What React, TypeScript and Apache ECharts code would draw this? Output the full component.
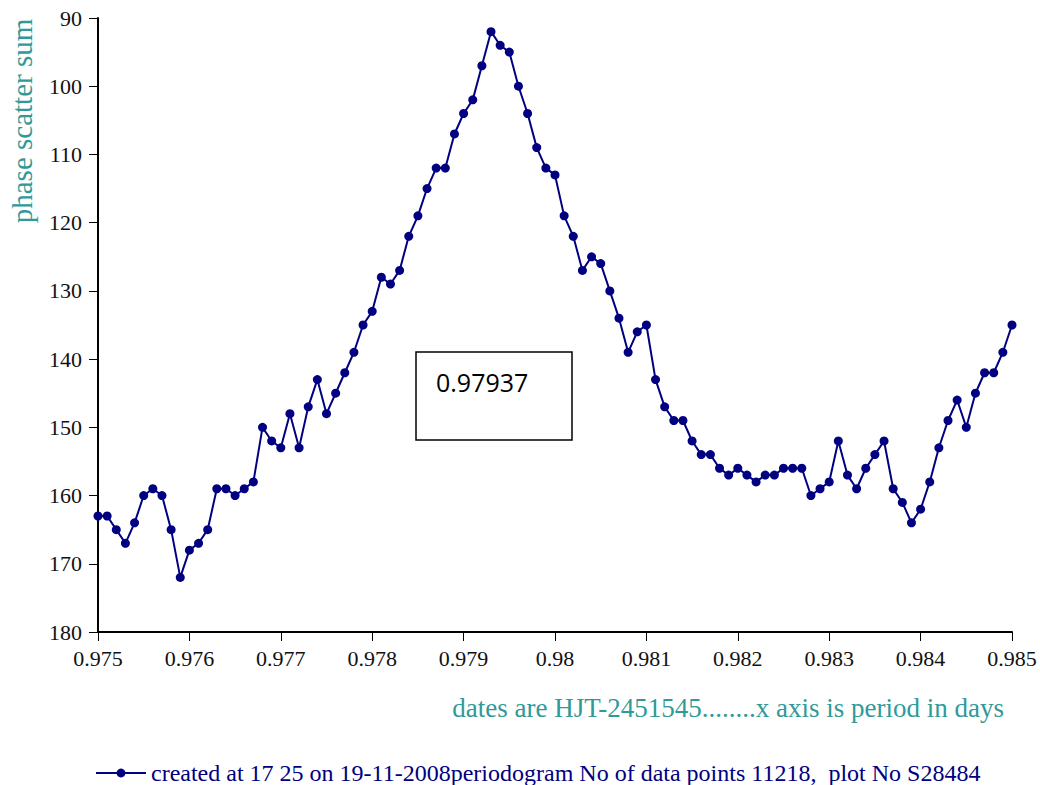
import React, { useEffect, useRef } from "react";
import * as echarts from "echarts";

const periods: number[] = [
  0.975, 0.9751, 0.9752, 0.9753, 0.9754, 0.9755, 0.9756, 0.9757, 0.9758, 0.9759,
  0.976, 0.9761, 0.9762, 0.9763, 0.9764, 0.9765, 0.9766, 0.9767, 0.9768, 0.9769,
  0.977, 0.9771, 0.9772, 0.9773, 0.9774, 0.9775, 0.9776, 0.9777, 0.9778, 0.9779,
  0.978, 0.9781, 0.9782, 0.9783, 0.9784, 0.9785, 0.9786, 0.9787, 0.9788, 0.9789,
  0.979, 0.9791, 0.9792, 0.9793, 0.9794, 0.9795, 0.9796, 0.9797, 0.9798, 0.9799,
  0.98, 0.9801, 0.9802, 0.9803, 0.9804, 0.9805, 0.9806, 0.9807, 0.9808, 0.9809,
  0.981, 0.9811, 0.9812, 0.9813, 0.9814, 0.9815, 0.9816, 0.9817, 0.9818, 0.9819,
  0.982, 0.9821, 0.9822, 0.9823, 0.9824, 0.9825, 0.9826, 0.9827, 0.9828, 0.9829,
  0.983, 0.9831, 0.9832, 0.9833, 0.9834, 0.9835, 0.9836, 0.9837, 0.9838, 0.9839,
  0.984, 0.9841, 0.9842, 0.9843, 0.9844, 0.9845, 0.9846, 0.9847, 0.9848, 0.9849,
  0.985,
];

const scatterSum: number[] = [
  163, 163, 165, 167, 164, 160, 159, 160, 165, 172,
  168, 167, 165, 159, 159, 160, 159, 158, 150, 152,
  153, 148, 153, 147, 143, 148, 145, 142, 139, 135,
  133, 128, 129, 127, 122, 119, 115, 112, 112, 107,
  104, 102, 97, 92, 94, 95, 100, 104, 109, 112,
  113, 119, 122, 127, 125, 126, 130, 134, 139, 136,
  135, 143, 147, 149, 149, 152, 154, 154, 156, 157,
  156, 157, 158, 157, 157, 156, 156, 156, 160, 159,
  158, 152, 157, 159, 156, 154, 152, 159, 161, 164,
  162, 158, 153, 149, 146, 150, 145, 142, 142, 139,
  135,
];

const seriesName =
  "created at 17 25 on 19-11-2008periodogram No of data points 11218,  plot No S28484";
const yAxisTitle = "phase scatter sum";
const xAxisTitle = "dates are HJT-2451545........x axis is period in days";
const boxLabel = "0.97937";

export default function App() {
  const ref = useRef<HTMLDivElement>(null);

  useEffect(() => {
    if (!ref.current) return;
    const chart = echarts.init(ref.current, null, { renderer: "svg" });
    const serif = "'Liberation Serif', 'Times New Roman', serif";
    const teal = "#2f9a98";
    const navy = "#000080";

    chart.setOption({
      animation: false,
      backgroundColor: "#ffffff",
      grid: { left: 98, right: 28, top: 18, bottom: 153 },
      xAxis: {
        type: "value",
        min: 0.975,
        max: 0.985,
        interval: 0.001,
        axisLine: { show: true, lineStyle: { color: "#000", width: 2 } },
        axisTick: { show: true, length: 9, lineStyle: { color: "#000", width: 1 } },
        splitLine: { show: false },
        axisLabel: {
          color: "#111",
          fontFamily: serif,
          fontSize: 22,
          margin: 15,
          formatter: (v: number) => String(parseFloat(v.toFixed(4))),
        },
      },
      yAxis: {
        type: "value",
        inverse: true,
        min: 90,
        max: 180,
        interval: 10,
        axisLine: { show: true, lineStyle: { color: "#000", width: 2 } },
        axisTick: { show: true, length: 9, lineStyle: { color: "#000", width: 1 } },
        splitLine: { show: false },
        axisLabel: {
          color: "#111",
          fontFamily: serif,
          fontSize: 22,
          margin: 16,
        },
      },
      legend: {
        left: 90,
        top: 756,
        itemWidth: 50,
        itemHeight: 11,
        textStyle: { color: navy, fontFamily: serif, fontSize: 24 },
        data: [seriesName],
      },
      series: [
        {
          name: seriesName,
          type: "line",
          data: periods.map((p, i) => [p, scatterSum[i]]),
          symbol: "circle",
          symbolSize: 9,
          showSymbol: true,
          lineStyle: { color: navy, width: 2 },
          itemStyle: { color: navy },
        },
      ],
      graphic: [
        {
          type: "text",
          x: 22,
          y: 121,
          rotation: Math.PI / 2,
          style: {
            text: yAxisTitle,
            fill: teal,
            font: `29px ${serif}`,
            align: "center",
            verticalAlign: "middle",
          },
        },
        {
          type: "text",
          x: 1004,
          y: 708,
          style: {
            text: xAxisTitle,
            fill: teal,
            font: `27px ${serif}`,
            align: "right",
            verticalAlign: "middle",
          },
        },
        {
          type: "rect",
          shape: { x: 416, y: 352, width: 156, height: 88 },
          style: { fill: "#fff", stroke: "#000", lineWidth: 1.5 },
          z: 10,
        },
        {
          type: "text",
          x: 436,
          y: 382,
          z: 11,
          style: {
            text: boxLabel,
            fill: "#000",
            font: "25px 'Open Sans', sans-serif",
            align: "left",
            verticalAlign: "middle",
          },
        },
      ],
    });

    return () => chart.dispose();
  }, []);

  return (
    <div
      ref={ref}
      style={{ position: "fixed", left: 0, top: 0, width: 1040, height: 785 }}
    />
  );
}
